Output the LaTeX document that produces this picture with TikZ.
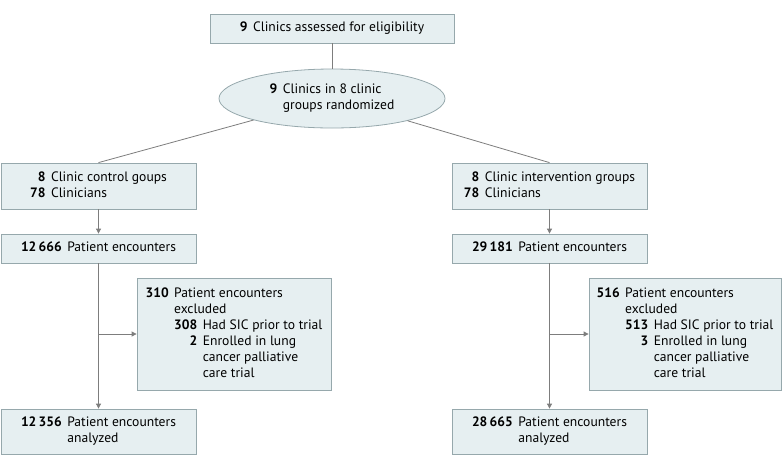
\documentclass[tikz,border=0pt]{standalone}
\usepackage{fontspec}
\setmainfont{PT Sans}
\usetikzlibrary{shapes.geometric,arrows.meta}
\definecolor{boxfill}{RGB}{230,239,241}
\definecolor{boxdraw}{RGB}{150,168,172}
\definecolor{linecol}{RGB}{125,125,125}
\tikzset{
  box/.style={draw=boxdraw, fill=boxfill, line width=0.8pt, inner sep=0pt, align=center, font=\fontsize{13.6}{16}\selectfont},
  ell/.style={box, ellipse},
  conn/.style={draw=linecol, line width=0.8pt},
  arr/.style={conn, -{Triangle[width=5pt,length=5pt]}}
}
\begin{document}
\begin{tikzpicture}[x=1pt,y=-1pt]
\useasboundingbox (0,0) rectangle (783,467);
\node[box, minimum width=244pt, minimum height=29pt] (top) at (332,28.5)
  {\begin{tabular}{@{}r@{\hspace{5.5pt}}l@{}}\textbf{9} & Clinics assessed for eligibility\end{tabular}};
\node[ell, minimum width=226pt, minimum height=59pt] (rand) at (332,98.5)
  {\begin{tabular}{@{}r@{\hspace{5.5pt}}l@{}}\textbf{9} & Clinics in 8 clinic\\ & groups randomized\end{tabular}};
\node[box, minimum width=195pt, minimum height=46pt] (lc1) at (98.5,186)
  {\begin{tabular}{@{}r@{\hspace{5.5pt}}l@{}}\textbf{8} & Clinic control goups\\ \textbf{78} & Clinicians\end{tabular}};
\node[box, minimum width=195pt, minimum height=29pt] (lc2) at (98.5,248.5)
  {\begin{tabular}{@{}r@{\hspace{5.5pt}}l@{}}\textbf{12\,666} & Patient encounters\end{tabular}};
\node[box, minimum width=194pt, minimum height=112pt] (lex) at (234,334)
  {\begin{tabular}{@{}r@{\hspace{5.5pt}}r@{\hspace{5.5pt}}l@{}}
   \textbf{310} & \multicolumn{2}{@{}l@{}}{Patient encounters}\\
   & \multicolumn{2}{@{}l@{}}{excluded}\\
   & \textbf{308} & Had SIC prior to trial\\
   & \textbf{2} & Enrolled in lung\\
   & & cancer palliative\\
   & & care trial
  \end{tabular}};
\node[box, minimum width=195pt, minimum height=45pt] (la) at (98.5,431.5)
  {\begin{tabular}{@{}r@{\hspace{5.5pt}}l@{}}\textbf{12\,356} & Patient encounters\\ & analyzed\end{tabular}};
\node[box, minimum width=195pt, minimum height=46pt] (rc1) at (549.5,186)
  {\begin{tabular}{@{}r@{\hspace{5.5pt}}l@{}}\textbf{8} & Clinic intervention groups\\ \textbf{78} & Clinicians\end{tabular}};
\node[box, minimum width=195pt, minimum height=29pt] (rc2) at (549.5,248.5)
  {\begin{tabular}{@{}r@{\hspace{5.5pt}}l@{}}\textbf{29\,181} & Patient encounters\end{tabular}};
\node[box, minimum width=192pt, minimum height=112pt] (rex) at (685,334)
  {\begin{tabular}{@{}r@{\hspace{5.5pt}}r@{\hspace{5.5pt}}l@{}}
   \textbf{516} & \multicolumn{2}{@{}l@{}}{Patient encounters}\\
   & \multicolumn{2}{@{}l@{}}{excluded}\\
   & \textbf{513} & Had SIC prior to trial\\
   & \textbf{3} & Enrolled in lung\\
   & & cancer palliative\\
   & & care trial
  \end{tabular}};
\node[box, minimum width=195pt, minimum height=45pt] (ra) at (549.5,431.5)
  {\begin{tabular}{@{}r@{\hspace{5.5pt}}l@{}}\textbf{28\,665} & Patient encounters\\ & analyzed\end{tabular}};
% connectors
\draw[conn] (top) -- (rand);
\draw[conn] (rand) -- (lc1.north);
\draw[conn] (rand) -- (rc1.north);
\draw[arr] (lc1) -- (lc2);
\draw[arr] (rc1) -- (rc2);
\draw[arr] (lc2) -- (la);
\draw[arr] (rc2) -- (ra);
\draw[arr] (lc2.south |- lex.west) -- (lex.west);
\draw[arr] (rc2.south |- rex.west) -- (rex.west);
\end{tikzpicture}
\end{document}
